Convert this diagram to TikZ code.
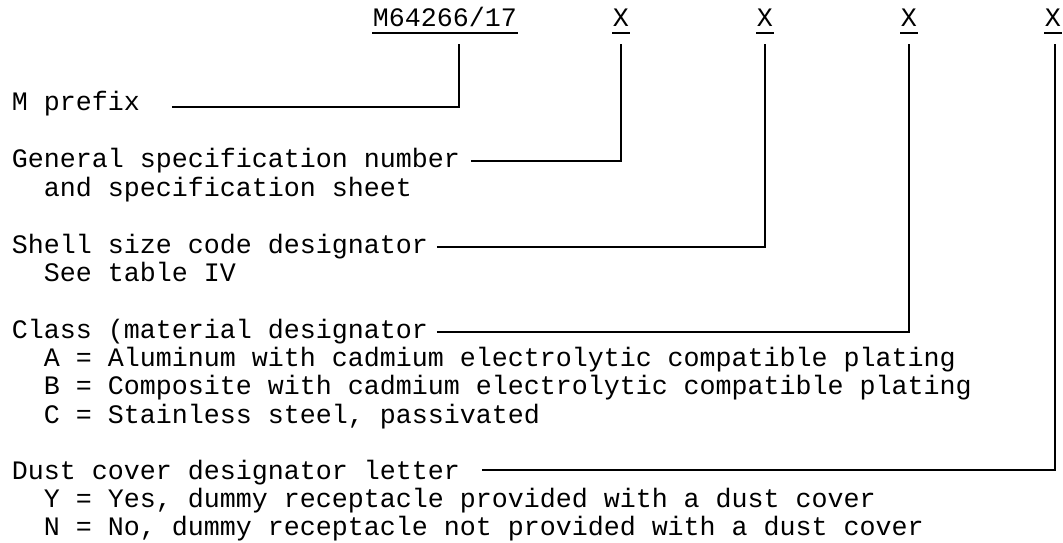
\documentclass[tikz,border=0pt]{standalone}
\usepackage{fontspec}
\setmonofont{Liberation Mono}
\newcommand\descindent{\hspace*{16pt}}
\begin{document}
\begin{tikzpicture}[x=0.5pt, y=-0.5pt, line width=0.9pt,
    font=\ttfamily\fontsize{13.33}{14.17}\selectfont,
    every node/.style={inner sep=0pt, anchor=base west},
    code/.style={text depth=3pt}]
    \useasboundingbox (0,0) rectangle (1063,542);
    % part number
    \node [code] (code) at (372,26) {M64266/17};
    \node [code] (x1) at (612,26) {X};
    \node [code] (x2) at (756,26) {X};
    \node [code] (x3) at (900,26) {X};
    \node [code] (x4) at (1044,26) {X};
    \foreach \n in {code,x1,x2,x3,x4}
        \draw [line width=1pt] (\n.south west) -- (\n.south east);
    % descriptions
    \node (prefix) at (11,110) {M prefix};
    \node (spec) at (11,167) {General specification number};
    \node (specnote) at (11,196) {\descindent and specification sheet};
    \node (shell) at (11,253) {Shell size code designator};
    \node (shellnote) at (11,281) {\descindent See table IV};
    \node (class) at (11,338) {Class (material designator};
    \foreach \t [count=\i] in {{A = Aluminum with cadmium electrolytic compatible plating},
        {B = Composite with cadmium electrolytic compatible plating},
        {C = Stainless steel, passivated}}
        \node (classnote\i) at (11,338+28.4*\i) {\descindent \t};
    \node (dust) at (11,479) {Dust cover designator letter};
    \foreach \t [count=\i] in {{Y = Yes, dummy receptacle provided with a dust cover},
        {N = No, dummy receptacle not provided with a dust cover}}
        \node (dustnote\i) at (11,479+28.4*\i) {\descindent \t};
    % leaders
    \draw ([shift={(31,-3)}]prefix.base east) -| ([shift={(14,11)}]code.south);
    \draw ([shift={(10,-6)}]spec.base east) -| ([shift={(0,11)}]x1.south);
    \draw ([shift={(8,-6)}]shell.base east) -| ([shift={(0,11)}]x2.south);
    \draw ([shift={(8,-6)}]class.base east) -| ([shift={(0,11)}]x3.south);
    \draw ([shift={(21,-9)}]dust.base east) -| ([shift={(2,11)}]x4.south);
\end{tikzpicture}
\end{document}
